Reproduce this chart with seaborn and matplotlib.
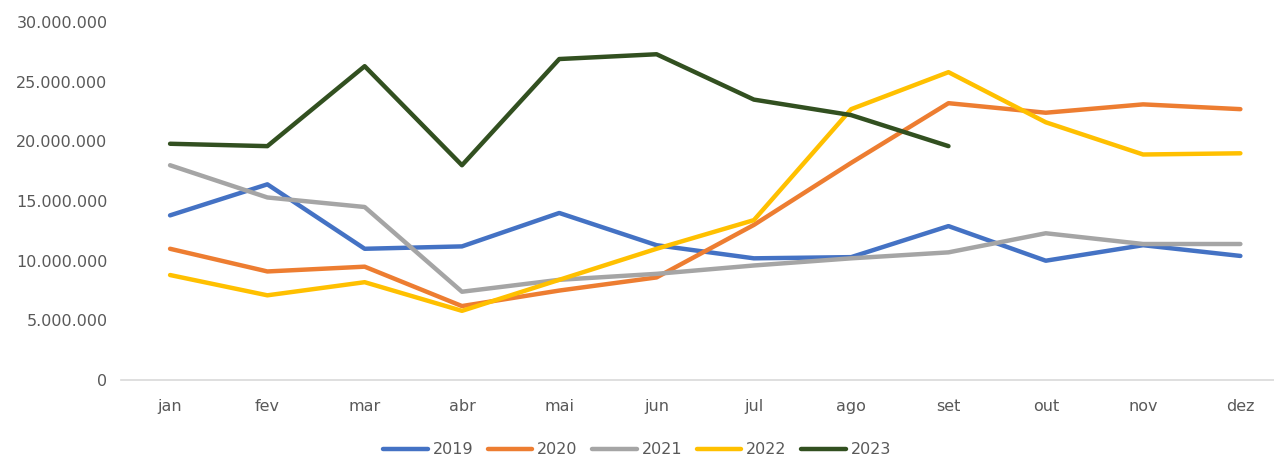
import matplotlib
matplotlib.use("Agg")
import matplotlib.pyplot as plt
import matplotlib.ticker as mticker
import seaborn as sns
import pandas as pd

# monthly values (millions)
months = ["jan", "fev", "mar", "abr", "mai", "jun", "jul", "ago", "set", "out", "nov", "dez"]
v2019 = [13.8, 16.4, 11.0, 11.2, 14.0, 11.3, 10.2, 10.3, 12.9, 10.0, 11.3, 10.4]
v2020 = [11.0, 9.1, 9.5, 6.2, 7.5, 8.6, 13.0, 18.2, 23.2, 22.4, 23.1, 22.7]
v2021 = [18.0, 15.3, 14.5, 7.4, 8.4, 8.9, 9.6, 10.2, 10.7, 12.3, 11.4, 11.4]
v2022 = [8.8, 7.1, 8.2, 5.8, 8.4, 11.0, 13.4, 22.7, 25.8, 21.6, 18.9, 19.0]
v2023 = [19.8, 19.6, 26.3, 18.0, 26.9, 27.3, 23.5, 22.2, 19.6]

series = {"2019": v2019, "2020": v2020, "2021": v2021, "2022": v2022, "2023": v2023}
colors = {"2019": "#4472C4", "2020": "#ED7D31", "2021": "#A5A5A5",
          "2022": "#FFC000", "2023": "#325020"}

rows = []
for year, vals in series.items():
    for m, v in zip(months, vals):
        rows.append({"mes": m, "valor": v * 1e6, "ano": year})
df = pd.DataFrame(rows)

sns.set_theme(style="white")
plt.rcParams["font.family"] = ["DejaVu Sans"]

fig = plt.figure(figsize=(12.74, 4.59), dpi=100)
# plot area runs past the right edge (reference is cropped there)
ax = fig.add_axes([0.0953, 0.172, 0.9165, 0.780])

sns.lineplot(data=df, x="mes", y="valor", hue="ano", palette=colors,
             linewidth=3.2, sort=False, ax=ax, legend=False)

ax.set_xlim(-0.5, 11.5)
ax.set_ylim(0, 30e6)
ax.yaxis.set_major_locator(mticker.MultipleLocator(5e6))
ax.yaxis.set_major_formatter(mticker.FuncFormatter(lambda v, p: f"{int(v):,}".replace(",", ".")))
ax.set_xlabel("")
ax.set_ylabel("")

for s in ["top", "right", "left"]:
    ax.spines[s].set_visible(False)
ax.spines["bottom"].set_color("#D9D9D9")
ax.spines["bottom"].set_linewidth(1.2)
ax.tick_params(axis="both", length=0, labelsize=11.5, labelcolor="#595959")
ax.tick_params(axis="x", pad=14)
ax.tick_params(axis="y", pad=10)

handles = [plt.Line2D([0], [0], color=colors[y], lw=3.2) for y in series]
fig.legend(handles, list(series), loc="center", bbox_to_anchor=(0.5, 0.02),
           ncol=5, frameon=False, fontsize=11.5, handlelength=2.8,
           columnspacing=0.9, handletextpad=0.3, labelcolor="#595959")

fig.savefig("out.png", dpi=100)
